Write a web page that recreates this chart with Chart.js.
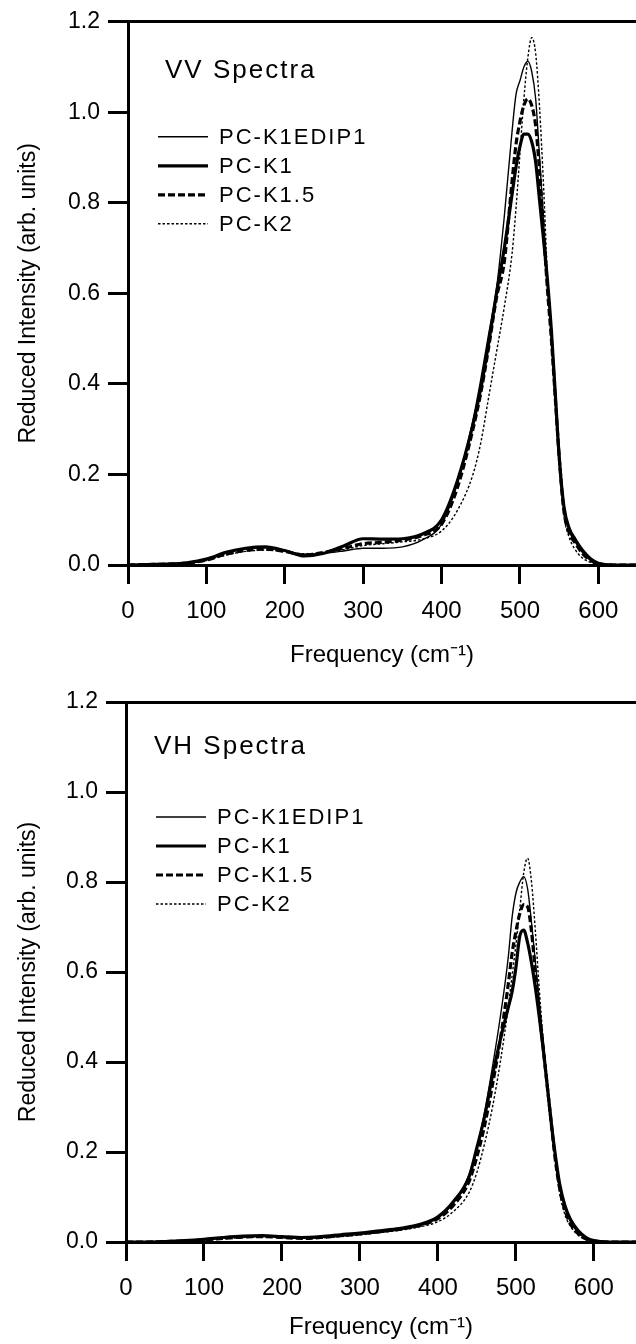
<!DOCTYPE html>
<html>
<head>
<meta charset="utf-8">
<title>VV / VH Spectra</title>
<script src="https://cdn.jsdelivr.net/npm/chart.js@4.4.1/dist/chart.umd.min.js"></script>
<style>
  html, body { margin: 0; padding: 0; background: #fff; }
  #wrap { position: relative; width: 636px; height: 1344px; }
  .panel { position: absolute; left: 0; width: 636px; height: 672px; }
</style>
</head>
<body>
<div id="wrap">
  <div class="panel" style="top:0"><canvas id="vv" width="636" height="672"></canvas></div>
  <div class="panel" style="top:672px"><canvas id="vh" width="636" height="672"></canvas></div>
</div>
<script>
// Data
const seriesNames = ["PC-K1EDIP1", "PC-K1", "PC-K1.5", "PC-K2"];
const freq = [
  0, 25, 50, 75, 100, 125, 150, 175, 200, 225, 250, 275, 300, 325, 350, 375,
  400, 420, 440, 450, 460, 470, 480, 490, 495, 500, 505, 510, 515, 520, 525,
  530, 535, 540, 545, 550, 556, 563, 570, 580, 590, 600, 620, 660,
];

// VV spectra
const vvK1EDIP1 = [
  0, 0.001, 0.002, 0.005, 0.012, 0.026, 0.036, 0.038, 0.032, 0.024, 0.026, 0.031, 0.037, 0.037, 0.040, 0.055,
  0.090, 0.18, 0.32, 0.41, 0.51, 0.61, 0.77, 0.96, 1.04, 1.07, 1.10, 1.113, 1.09, 1.03, 0.90,
  0.76, 0.63, 0.52, 0.38, 0.25, 0.13, 0.075, 0.052, 0.027, 0.010, 0.003, 0, 0,
];
const vvK1 = [
  0, 0.001, 0.002, 0.005, 0.013, 0.028, 0.037, 0.040, 0.032, 0.020, 0.026, 0.042, 0.058, 0.057, 0.058, 0.068,
  0.100, 0.185, 0.31, 0.39, 0.49, 0.60, 0.70, 0.82, 0.88, 0.925, 0.952, 0.952, 0.935, 0.89, 0.805,
  0.72, 0.63, 0.52, 0.38, 0.24, 0.13, 0.08, 0.058, 0.032, 0.014, 0.004, 0, 0,
];
const vvK15 = [
  0, 0.001, 0.002, 0.004, 0.011, 0.024, 0.032, 0.035, 0.030, 0.022, 0.028, 0.037, 0.047, 0.050, 0.055, 0.065,
  0.090, 0.17, 0.30, 0.38, 0.48, 0.59, 0.67, 0.85, 0.93, 0.98, 1.015, 1.03, 1.015, 0.97, 0.87,
  0.74, 0.61, 0.50, 0.37, 0.24, 0.12, 0.07, 0.05, 0.025, 0.010, 0.003, 0, 0,
];
const vvK2 = [
  0, 0.001, 0.002, 0.004, 0.010, 0.022, 0.030, 0.033, 0.030, 0.025, 0.027, 0.034, 0.043, 0.047, 0.051, 0.057,
  0.075, 0.12, 0.20, 0.27, 0.37, 0.47, 0.57, 0.69, 0.79, 0.91, 1.03, 1.12, 1.165, 1.13, 1.01,
  0.84, 0.64, 0.50, 0.36, 0.22, 0.11, 0.06, 0.035, 0.015, 0.006, 0.002, 0, 0,
];

// VH spectra
const vhK1EDIP1 = [
  0, 0, 0.001, 0.003, 0.006, 0.009, 0.012, 0.013, 0.011, 0.009, 0.010, 0.013, 0.017, 0.021, 0.027, 0.036,
  0.053, 0.088, 0.15, 0.21, 0.29, 0.39, 0.50, 0.63, 0.72, 0.775, 0.80, 0.812, 0.785, 0.71, 0.62,
  0.53, 0.445, 0.36, 0.28, 0.20, 0.125, 0.075, 0.045, 0.020, 0.008, 0.002, 0, 0,
];
const vhK1 = [
  0, 0, 0.001, 0.003, 0.006, 0.010, 0.013, 0.014, 0.012, 0.010, 0.012, 0.016, 0.020, 0.025, 0.030, 0.038,
  0.056, 0.09, 0.145, 0.21, 0.28, 0.37, 0.45, 0.52, 0.555, 0.61, 0.68, 0.693, 0.665, 0.62, 0.565,
  0.50, 0.43, 0.35, 0.27, 0.20, 0.13, 0.08, 0.05, 0.025, 0.010, 0.003, 0, 0,
];
const vhK15 = [
  0, 0, 0.001, 0.002, 0.005, 0.008, 0.011, 0.012, 0.010, 0.008, 0.010, 0.014, 0.018, 0.023, 0.028, 0.036,
  0.052, 0.082, 0.135, 0.19, 0.26, 0.35, 0.45, 0.57, 0.64, 0.69, 0.73, 0.75, 0.745, 0.69, 0.60,
  0.51, 0.43, 0.35, 0.27, 0.19, 0.12, 0.07, 0.04, 0.018, 0.007, 0.002, 0, 0,
];
const vhK2 = [
  0, 0, 0.001, 0.002, 0.004, 0.007, 0.010, 0.011, 0.010, 0.008, 0.009, 0.012, 0.016, 0.021, 0.026, 0.033,
  0.045, 0.068, 0.11, 0.155, 0.22, 0.30, 0.40, 0.52, 0.59, 0.66, 0.74, 0.82, 0.853, 0.80, 0.69,
  0.56, 0.45, 0.36, 0.27, 0.19, 0.11, 0.06, 0.035, 0.015, 0.005, 0.001, 0, 0,
];

const fontFamily = '"Liberation Sans", Arial, Helvetica, sans-serif';

// gaya garis per seri: tipis, tebal, putus-putus tebal, titik-titik tipis
const lineStyles = [
  { borderWidth: 1.4, borderDash: [] },
  { borderWidth: 3.2, borderDash: [] },
  { borderWidth: 3.2, borderDash: [7, 3] },
  { borderWidth: 1.4, borderDash: [2.5, 2] },
];

// plugin untuk judul panel + legenda di dalam area grafik
const panelLabels = {
  id: "panelLabels",
  afterDraw(chart, args, opts) {
    const { ctx, chartArea } = chart;
    ctx.save();
    ctx.fillStyle = "#000";
    ctx.strokeStyle = "#000";
    ctx.textBaseline = "middle";
    ctx.letterSpacing = "2px";
    ctx.font = "26px " + fontFamily;
    ctx.fillText(opts.title, chartArea.left + opts.titleX, chartArea.top + opts.titleY);

    ctx.font = "22px " + fontFamily;
    chart.data.datasets.forEach((ds, i) => {
      const y = chartArea.top + opts.rowY + i * opts.rowGap;
      ctx.beginPath();
      ctx.lineWidth = ds.borderWidth;
      ctx.setLineDash(ds.borderDash);
      ctx.moveTo(chartArea.left + opts.lineX0, y);
      ctx.lineTo(chartArea.left + opts.lineX1, y);
      ctx.stroke();
      ctx.setLineDash([]);
      ctx.fillText(ds.label, chartArea.left + opts.textX, y + 1);
    });
    ctx.restore();
  },
};

function makePanel(canvasId, title, values, layout) {
  const datasets = values.map((arr, i) => ({
    label: seriesNames[i],
    data: freq.map((f, j) => ({ x: f, y: arr[j] })),
    borderColor: "#000",
    backgroundColor: "#000",
    borderWidth: lineStyles[i].borderWidth,
    borderDash: lineStyles[i].borderDash,
    pointRadius: 0,
    cubicInterpolationMode: "monotone",
    fill: false,
  }));

  return new Chart(document.getElementById(canvasId), {
    type: "line",
    data: { datasets: datasets },
    options: {
      responsive: false,
      animation: false,
      layout: { padding: { top: layout.top, left: 0, right: 0, bottom: 0 } },
      plugins: {
        legend: { display: false },
        tooltip: { enabled: false },
        panelLabels: {
          title: title,
          titleX: layout.titleX,
          titleY: layout.titleY,
          lineX0: 30,
          lineX1: 80,
          textX: 91,
          rowY: 115,
          rowGap: 29,
        },
      },
      scales: {
        x: {
          type: "linear",
          min: 0,
          max: layout.xMax,
          afterFit: (s) => { s.height = layout.xHeight; },
          ticks: {
            stepSize: 100,
            includeBounds: false,
            color: "#000",
            padding: 13,
            font: { family: fontFamily, size: 24 },
          },
          grid: { drawOnChartArea: false, drawTicks: true, tickLength: 19, tickWidth: 3, tickColor: "#000" },
          border: { display: true, color: "#000", width: 3 },
          title: {
            display: true,
            text: "Frequency (cm⁻¹)",
            color: "#000",
            padding: { top: 0, bottom: 2 },
            font: { family: fontFamily, size: 24 },
          },
        },
        xTop: {
          type: "linear",
          position: "top",
          min: 0,
          max: layout.xMax,
          afterFit: (s) => { s.height = 0; },
          ticks: { display: false },
          grid: { display: false, drawTicks: false },
          border: { display: true, color: "#000", width: 3 },
        },
        y: {
          min: 0,
          max: 1.2,
          afterFit: (s) => { s.width = layout.yWidth; },
          ticks: {
            stepSize: 0.2,
            color: "#000",
            padding: 8,
            font: { family: fontFamily, size: 23 },
            callback: (v) => v.toFixed(1),
          },
          grid: { drawOnChartArea: false, drawTicks: true, tickLength: 20, tickWidth: 3, tickColor: "#000" },
          border: { display: true, color: "#000", width: 3 },
          title: {
            display: true,
            text: "Reduced Intensity (arb. units)",
            color: "#000",
            padding: { top: 15, bottom: 0 },
            font: { family: fontFamily, size: 23 },
          },
        },
      },
    },
    plugins: [panelLabels],
  });
}

const vvChart = makePanel("vv", "VV Spectra", [vvK1EDIP1, vvK1, vvK15, vvK2], {
  top: 21, xHeight: 107, yWidth: 128, xMax: 648, titleX: 37, titleY: 49,
});
const vhChart = makePanel("vh", "VH Spectra", [vhK1EDIP1, vhK1, vhK15, vhK2], {
  top: 30, xHeight: 102, yWidth: 126, xMax: 654, titleX: 28, titleY: 45,
});
</script>
</body>
</html>
